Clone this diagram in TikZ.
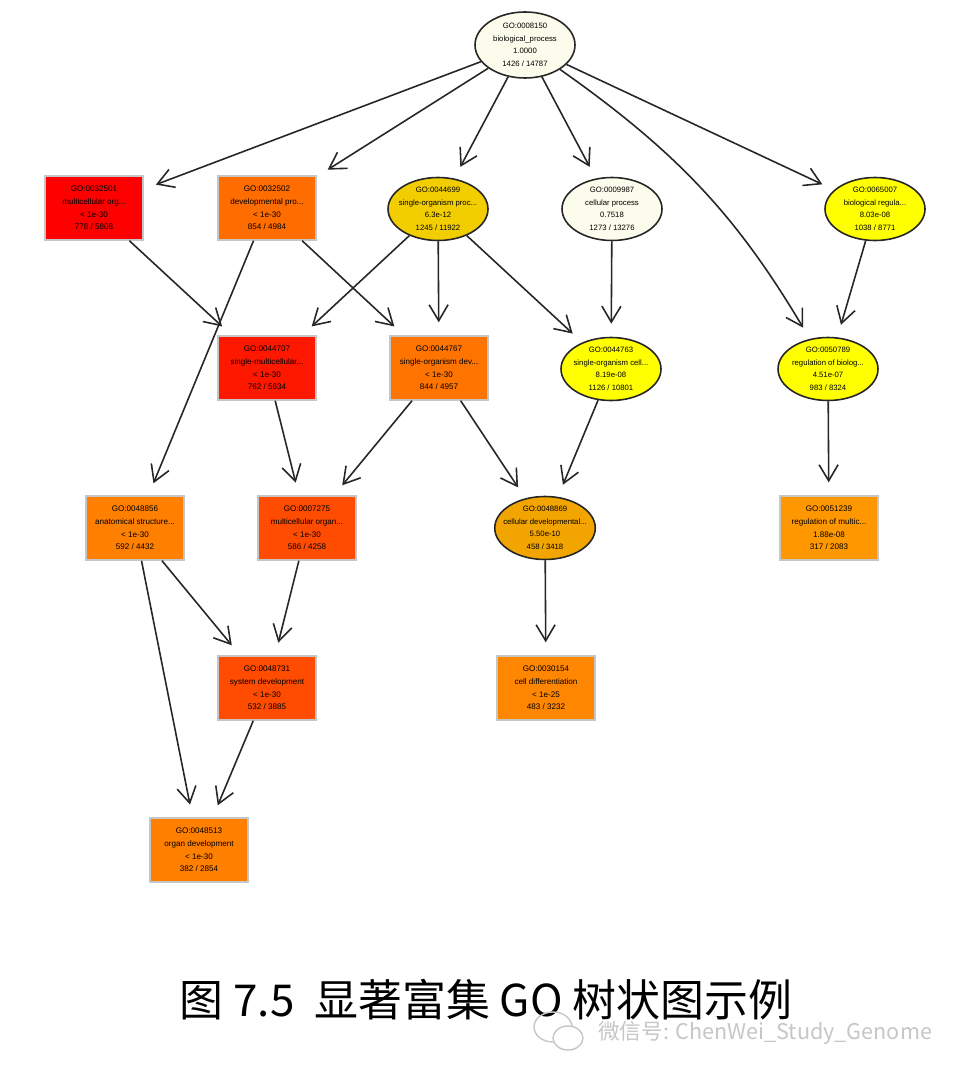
\documentclass[tikz,border=0pt]{standalone}
\usepackage{fontspec}
\setsansfont{Liberation Sans}
\newfontfamily\cjkfont{Noto Sans CJK SC}
\usepackage{xcolor}
\usepackage{tikz}
\usetikzlibrary{shapes.geometric, arrows.meta, positioning}

\definecolor{ivory}{HTML}{FCFCEC}
\definecolor{sigred}{HTML}{FF0000}
\definecolor{sigredo}{HTML}{FF1800}
\definecolor{sigora}{HTML}{FF6C00}
\definecolor{sigorb}{HTML}{FF7400}
\definecolor{sigorc}{HTML}{FF7F00}
\definecolor{sigord}{HTML}{FF8600}
\definecolor{sigore}{HTML}{FF9800}
\definecolor{sigdeep}{HTML}{FF4C00}
\definecolor{siggold}{HTML}{F2CE00}
\definecolor{sigamber}{HTML}{F2A400}
\definecolor{sigyel}{HTML}{FFFF00}

\begin{document}
\begin{tikzpicture}[
    x=0.2mm, y=-0.2mm,
    term/.style={rectangle, draw=gray!45, line width=0.8pt, fill=#1,
                 minimum width=1.96cm, minimum height=1.28cm, inner sep=1pt,
                 align=center, font=\fontsize{4.6}{7.2}\selectfont\sffamily},
    goset/.style={ellipse, draw=black!85, line width=0.9pt, fill=#1,
                  minimum width=2cm, minimum height=1.26cm, inner xsep=-3.5pt, inner ysep=0pt,
                  align=center, font=\fontsize{4.4}{7.2}\selectfont\sffamily},
    arr/.style={-{Straight Barb[length=3.2mm, width=3.8mm]}, line width=0.9pt,
                black!85, shorten >=2.6mm},
]
    \useasboundingbox (0,0) rectangle (960,1077);

    % Root
    \node[goset=ivory, minimum height=1.32cm] (root) at (525,45) {GO:0008150\\biological\_process\\1.0000\\1426 / 14787};

    % Level 1
    \node[term=sigred] (mco) at (94,208) {GO:0032501\\multicellular org...\\< 1e-30\\778 / 5808};
    \node[term=sigora] (dev) at (267,208) {GO:0032502\\developmental pro...\\< 1e-30\\854 / 4984};
    \node[goset=siggold] (sop) at (438,209) {GO:0044699\\single-organism proc...\\6.3e-12\\1245 / 11922};
    \node[goset=ivory] (cp) at (612,209) {GO:0009987\\cellular process\\0.7518\\1273 / 13276};
    \node[goset=sigyel] (breg) at (875,209) {GO:0065007\\biological regula...\\8.03e-08\\1038 / 8771};

    % Level 2
    \node[term=sigredo] (smo) at (267,368) {GO:0044707\\single-multicellular...\\< 1e-30\\762 / 5634};
    \node[term=sigorb] (sod) at (439,368) {GO:0044767\\single-organism dev...\\< 1e-30\\844 / 4957};
    \node[goset=sigyel] (soc) at (611,369) {GO:0044763\\single-organism cell...\\8.19e-08\\1126 / 10801};
    \node[goset=sigyel] (rbp) at (828,369) {GO:0050789\\regulation of biolog...\\4.51e-07\\983 / 8324};

    % Level 3
    \node[term=sigorc] (asd) at (135,528) {GO:0048856\\anatomical structure...\\< 1e-30\\592 / 4432};
    \node[term=sigdeep] (mod) at (307,528) {GO:0007275\\multicellular organ...\\< 1e-30\\586 / 4258};
    \node[goset=sigamber] (cdp) at (545,528) {GO:0048869\\cellular developmental...\\5.50e-10\\458 / 3418};
    \node[term=sigore] (rmo) at (829,528) {GO:0051239\\regulation of multic...\\1.88e-08\\317 / 2083};

    % Level 4
    \node[term=sigdeep] (sysdev) at (267,688) {GO:0048731\\system development\\< 1e-30\\532 / 3885};
    \node[term=sigord] (cdiff) at (546,688) {GO:0030154\\cell differentiation\\< 1e-25\\483 / 3232};

    % Level 5
    \node[term=sigorc] (orgdev) at (199,850) {GO:0048513\\organ development\\< 1e-30\\382 / 2854};

    % Edges
    \draw[arr] (root) -- (mco);
    \draw[arr] (root) -- (dev);
    \draw[arr] (root) -- (sop);
    \draw[arr] (root) -- (cp);
    \draw[arr] (root) -- (breg);
    \draw[arr] (root) to[bend left=12] (rbp);
    \draw[arr] (mco) -- (smo);
    \draw[arr] (dev) -- (asd);
    \draw[arr] (dev) -- (sod);
    \draw[arr] (sop) -- (smo);
    \draw[arr] (sop) -- (sod);
    \draw[arr] (sop) -- (soc);
    \draw[arr] (cp) -- (soc);
    \draw[arr] (breg) -- (rbp);
    \draw[arr] (smo) -- (mod);
    \draw[arr] (sod) -- (mod);
    \draw[arr] (sod) -- (cdp);
    \draw[arr] (soc) -- (cdp);
    \draw[arr] (rbp) -- (rmo);
    \draw[arr] (asd) -- (sysdev);
    \draw[arr] (asd) -- (orgdev);
    \draw[arr] (mod) -- (sysdev);
    \draw[arr] (cdp) -- (cdiff);
    \draw[arr] (sysdev) -- (orgdev);

    % Caption
    \node[font=\cjkfont\fontsize{25}{30}\selectfont] (caption) at (486,1000) {图 7.5\ \ 显著富集 GO 树状图示例};
    \node[font=\cjkfont\fontsize{12.3}{15}\selectfont, text=gray!45, anchor=west] (mark) at (592,1033) {微信号: ChenWei\_Study\_Genome};
    \draw[gray!45, line width=0.8pt] (553,1027) ellipse (19 and 15);
    \draw[gray!45, line width=0.8pt, fill=white] (568,1038) ellipse (15 and 12);
\end{tikzpicture}
\end{document}
